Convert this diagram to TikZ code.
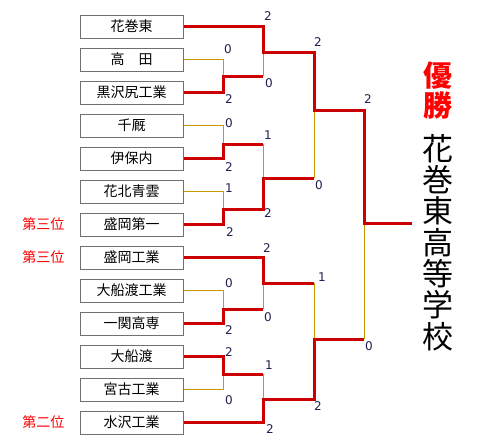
\documentclass[tikz,border=0pt]{standalone}
\usepackage{fontspec}
\usetikzlibrary{positioning}
\newfontfamily\cjk{Noto Sans CJK JP}
\newfontfamily\digits{DejaVu Sans}
\definecolor{winred}{HTML}{CC0000}
\definecolor{loseorange}{HTML}{CC9900}
\definecolor{rankred}{HTML}{FF0000}
\definecolor{scorenavy}{HTML}{202050}
\definecolor{boxgray}{HTML}{707070}

\tikzset{
  team/.style={draw=boxgray, line width=1pt, minimum width=103pt, minimum height=23pt, inner sep=0pt, font=\cjk\fontsize{14}{14}\selectfont},
  win/.style={draw=winred, line width=3pt},
  lose/.style={draw=loseorange, line width=1pt},
  score/.style={text=scorenavy, font=\digits\fontsize{12}{12}\selectfont, inner sep=0pt},
  rank/.style={text=rankred, font=\cjk\fontsize{14}{14}\selectfont, inner sep=0pt},
}

\begin{document}
\begin{tikzpicture}[x=1pt,y=-1pt]
            \useasboundingbox (0,0) rectangle (482,447);

            % teams
            \node[team] (t1) at (131.5,26.5) {花巻東};
            \node[team] (t2) at (131.5,59.5) {高　田};
            \node[team] (t3) at (131.5,92.5) {黒沢尻工業};
            \node[team] (t4) at (131.5,125.5) {千厩};
            \node[team] (t5) at (131.5,158.5) {伊保内};
            \node[team] (t6) at (131.5,191.5) {花北青雲};
            \node[team] (t7) at (131.5,224.5) {盛岡第一};
            \node[team] (t8) at (131.5,257.5) {盛岡工業};
            \node[team] (t9) at (131.5,290.5) {大船渡工業};
            \node[team] (t10) at (131.5,323.5) {一関高専};
            \node[team] (t11) at (131.5,356.5) {大船渡};
            \node[team] (t12) at (131.5,389.5) {宮古工業};
            \node[team] (t13) at (131.5,422.5) {水沢工業};

            \node[rank, left=15pt of t7] (third1) {第三位};
            \node[rank, left=15pt of t8] (third2) {第三位};
            \node[rank, left=15pt of t13] (second) {第二位};

            % joints
            \coordinate (m1) at (223,76);
            \coordinate (m2) at (223,144);
            \coordinate (m3) at (223,209);
            \coordinate (m4) at (223,309);
            \coordinate (m5) at (223,374);
            \coordinate (q1) at (263,52);
            \coordinate (q2) at (263,178);
            \coordinate (q3) at (263,283);
            \coordinate (q4) at (263,399);
            \coordinate (s1) at (314,110);
            \coordinate (s2) at (314,339);
            \coordinate (f) at (364,223);
            \coordinate (cend) at (412,223);

            % losers
            \draw[lose] (t2.east) -| (m1);
            \draw[lose] (t4.east) -| (m2);
            \draw[lose] (t6.east) -| (m3);
            \draw[lose] (t9.east) -| (m4);
            \draw[lose] (t12.east) -| (m5);
            \draw[lose] (m1 -| q1) -- (q1);
            \draw[lose] (m2 -| q2) -- (q2);
            \draw[lose] (m4 -| q3) -- (q3);
            \draw[lose] (m5 -| q4) -- (q4);
            \draw[lose] (q2 -| s1) -- (s1);
            \draw[lose] (q3 -| s2) -- (s2);
            \draw[lose] (s2 -| f) -- (f);

            % winners
            \draw[win] (t1.east) -| (q1) -| (s1) -| (f) -- (cend);
            \draw[win] (t3.east) -| (m1) -- (m1 -| q1);
            \draw[win] (t5.east) -| (m2) -- (m2 -| q2);
            \draw[win] (t7.east) -| (m3) -| (q2) -- (q2 -| s1);
            \draw[win] (t8.east) -| (q3) -- (q3 -| s2);
            \draw[win] (t10.east) -| (m4) -- (m4 -| q3);
            \draw[win] (t11.east) -| (m5) -- (m5 -| q4);
            \draw[win] (t13.east) -| (q4) -| (s2) -- (s2 -| f);

            % scores
            \node[score] (sc1) at (268,16) {2};
            \node[score] (sc2) at (228,49) {0};
            \node[score] (sc3) at (229,99) {2};
            \node[score] (sc4) at (269,83) {0};
            \node[score] (sc5) at (318,42) {2};
            \node[score] (sc6) at (368,99) {2};
            \node[score] (sc7) at (229,123) {0};
            \node[score] (sc8) at (268,135) {1};
            \node[score] (sc9) at (229,167) {2};
            \node[score] (sc10) at (229,188) {1};
            \node[score] (sc11) at (319,185) {0};
            \node[score] (sc12) at (268,213) {2};
            \node[score] (sc13) at (230,232) {2};
            \node[score] (sc14) at (267,248) {2};
            \node[score] (sc15) at (322,277) {1};
            \node[score] (sc16) at (229,283) {0};
            \node[score] (sc17) at (268,317) {0};
            \node[score] (sc18) at (229,330) {2};
            \node[score] (sc19) at (369,346) {0};
            \node[score] (sc20) at (229,352) {2};
            \node[score] (sc21) at (269,365) {1};
            \node[score] (sc22) at (229,400) {0};
            \node[score] (sc23) at (318,406) {2};
            \node[score] (sc24) at (270,429) {2};

            % champion
            \node[text=rankred, font=\cjk\bfseries\fontsize{29}{30}\selectfont, align=center, inner sep=0pt] (title) at (438,90) {優\\勝};
            \node[font=\cjk\fontsize{31}{31.3}\selectfont, align=center, inner sep=0pt] (champ) at (438,242.5) {花\\巻\\東\\高\\等\\学\\校};
\end{tikzpicture}
\end{document}
